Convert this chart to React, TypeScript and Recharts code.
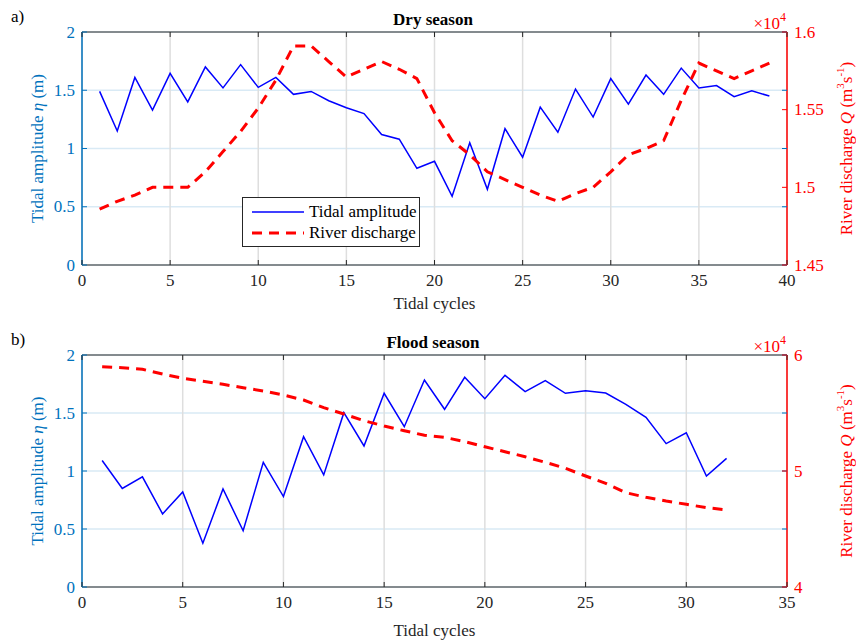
import { LineChart, Line, XAxis, YAxis, CartesianGrid, Legend, ReferenceLine } from 'recharts'

// dry season (a)
const dryCycles = [
  1, 2, 3, 4, 5, 6, 7, 8, 9, 10, 11, 12, 13, 14, 15, 16, 17, 18, 19, 20,
  21, 22, 23, 24, 25, 26, 27, 28, 29, 30, 31, 32, 33, 34, 35, 36, 37, 38, 39,
]
const dryAmplitude = [
  1.49, 1.15, 1.61, 1.33, 1.645, 1.4, 1.7, 1.52, 1.72, 1.525, 1.61, 1.465, 1.49, 1.41, 1.35, 1.3, 1.12, 1.08, 0.83, 0.89,
  0.59, 1.05, 0.65, 1.17, 0.925, 1.355, 1.14, 1.51, 1.27, 1.6, 1.38, 1.63, 1.465, 1.69, 1.52, 1.54, 1.445, 1.495, 1.45,
]
const dryDischarge = [
  14860, 14910, 14950, 15000, 15000, 15000, 15100, 15230, 15360, 15510, 15690, 15910, 15910, 15810, 15710, 15760, 15810, 15760, 15700, 15480,
  15300, 15210, 15100, 15050, 15000, 14950, 14910, 14960, 15000, 15100, 15210, 15250, 15300, 15560, 15800, 15750, 15700, 15750, 15800,
]

// flood season (b)
const floodCycles = [
  1, 2, 3, 4, 5, 6, 7, 8, 9, 10, 11, 12, 13, 14, 15, 16,
  17, 18, 19, 20, 21, 22, 23, 24, 25, 26, 27, 28, 29, 30, 31, 32,
]
const floodAmplitude = [
  1.09, 0.85, 0.95, 0.63, 0.82, 0.377, 0.845, 0.485, 1.075, 0.78, 1.296, 0.966, 1.503, 1.216, 1.67, 1.382,
  1.784, 1.532, 1.808, 1.623, 1.825, 1.684, 1.779, 1.67, 1.692, 1.672, 1.575, 1.463, 1.236, 1.33, 0.957, 1.109,
]
const floodDischarge = [
  58990, 58900, 58770, 58360, 57990, 57730, 57470, 57180, 56900, 56550, 56120, 55460, 54910, 54340, 53880, 53470,
  53080, 52900, 52530, 52090, 51660, 51230, 50750, 50230, 49570, 48940, 48130, 47730, 47410, 47130, 46840, 46650,
]

const dryXTicks = [0, 5, 10, 15, 20, 25, 30, 35, 40]
const floodXTicks = [0, 5, 10, 15, 20, 25, 30, 35]
const amplitudeTicks = [0, 0.5, 1, 1.5, 2]
const dryQTicks = [14500, 15000, 15500, 16000]
const floodQTicks = [40000, 50000, 60000]
const legendOrder = ['amplitude', 'discharge']

const dryData = dryCycles.map((c, i) => ({ cycle: c, amplitude: dryAmplitude[i], discharge: dryDischarge[i] }))
const floodData = floodCycles.map((c, i) => ({ cycle: c, amplitude: floodAmplitude[i], discharge: floodDischarge[i] }))

const BLUE = '#0072BD'
const RED = '#FF0000'
const DARK = '#262626'
const FONT = '"Liberation Serif", "Times New Roman", serif'
const TICK_MARGIN = 7
const PLOT_TOP = 32
const PLOT_RIGHT = 787

function XTick(props: any) {
  const { x, y, payload } = props
  const axisY = y - TICK_MARGIN
  return (
    <g>
      <line x1={x} x2={x} y1={axisY} y2={axisY - 5} stroke={DARK} />
      <line x1={x} x2={x} y1={PLOT_TOP} y2={PLOT_TOP + 5} stroke={DARK} />
      <text x={x} y={y} dy="0.8em" textAnchor="middle" fill={DARK} fontSize={17} fontFamily={FONT}>
        {payload.value}
      </text>
    </g>
  )
}

function LeftTick(props: any) {
  const { x, y, payload } = props
  const axisX = x + TICK_MARGIN
  return (
    <g>
      <line x1={axisX} x2={axisX + 5} y1={y} y2={y} stroke={BLUE} />
      <line x1={PLOT_RIGHT - 5} x2={PLOT_RIGHT} y1={y} y2={y} stroke={BLUE} />
      <text x={x} y={y} textAnchor="end" dominantBaseline="central" fill={BLUE} fontSize={17} fontFamily={FONT}>
        {payload.value}
      </text>
    </g>
  )
}

function RightTick(props: any) {
  const { x, y, payload } = props
  const axisX = x - TICK_MARGIN
  return (
    <g>
      <line x1={axisX - 5} x2={axisX} y1={y} y2={y} stroke={RED} />
      <text x={x} y={y} textAnchor="start" dominantBaseline="central" fill={RED} fontSize={17} fontFamily={FONT}>
        {payload.value / 1e4}
      </text>
    </g>
  )
}

function LegendBox({ payload }: any) {
  if (!payload) return null
  const items = [...payload].sort((a: any, b: any) => legendOrder.indexOf(a.dataKey) - legendOrder.indexOf(b.dataKey))
  return (
    <div
      style={{
        border: `1px solid ${DARK}`,
        background: '#fff',
        padding: '3px 4px 3px 9px',
        width: 178,
        boxSizing: 'border-box',
        fontFamily: FONT,
        whiteSpace: 'nowrap',
      }}
    >
      {items.map((p: any) => (
        <div key={p.value} style={{ display: 'flex', alignItems: 'center', height: 21 }}>
          <svg width={52} height={10} style={{ flexShrink: 0 }}>
            <line
              x1={0} x2={52} y1={5} y2={5}
              stroke={p.color}
              strokeWidth={p.dataKey === 'discharge' ? 3 : 1.5}
              strokeDasharray={p.dataKey === 'discharge' ? '10 7' : undefined}
            />
          </svg>
          <span style={{ marginLeft: 5, fontSize: 17, color: '#000' }}>{p.value}</span>
        </div>
      ))}
    </div>
  )
}

function Overlay({ height, tag, title, midY }: { height: number; tag: string; title: string; midY: number }) {
  return (
    <svg
      width={856}
      height={height}
      style={{ position: 'absolute', left: 0, top: 0, pointerEvents: 'none' }}
      fontFamily={FONT}
    >
      <text x={11} y={22} fontSize={17} fill="#000">{tag}</text>
      <text x={433} y={25} fontSize={17} fontWeight="bold" textAnchor="middle" fill="#000">{title}</text>
      <text x={786} y={29} fontSize={17} textAnchor="end" fill={RED}>
        ×10<tspan dy={-8} fontSize={12}>4</tspan>
      </text>
      <text transform={`translate(37, ${midY}) rotate(-90)`} textAnchor="middle" dominantBaseline="central" fontSize={17} fill={BLUE}>
        Tidal amplitude <tspan fontStyle="italic">η</tspan> (m)
      </text>
      <text transform={`translate(846, ${midY}) rotate(-90)`} textAnchor="middle" dominantBaseline="central" fontSize={17} fill={RED}>
        River discharge <tspan fontStyle="italic">Q</tspan> (m<tspan dy={-6} fontSize={11}>3</tspan><tspan dy={6}>s</tspan><tspan dy={-6} fontSize={11}>-1</tspan><tspan dy={6}>)</tspan>
      </text>
    </svg>
  )
}

function SeasonChart({ data, height, axisHeight, labelOffset, xTicks, xMax, qTicks, qDomain, showLegend, tag, title }: any) {
  const plotBottom = height - axisHeight
  return (
    <div style={{ position: 'relative', width: 856, height }}>
      <LineChart width={856} height={height} data={data} margin={{ top: PLOT_TOP, right: 0, bottom: 0, left: 0 }}>
        <CartesianGrid yAxisId="left" vertical={false} stroke="#D9EAF5" strokeWidth={1.5} />
        <CartesianGrid yAxisId="left" horizontal={false} stroke="#DEDEDE" strokeWidth={1.5} />
        <XAxis
          dataKey="cycle"
          type="number"
          domain={[0, xMax]}
          ticks={xTicks}
          height={axisHeight}
          stroke={DARK}
          tickLine={false}
          tickSize={0}
          tickMargin={TICK_MARGIN}
          tick={<XTick />}
          label={{ value: 'Tidal cycles', position: 'insideBottom', offset: labelOffset, fontSize: 17, fill: DARK, fontFamily: FONT }}
        />
        <YAxis
          yAxisId="left"
          orientation="left"
          width={82}
          domain={[0, 2]}
          ticks={amplitudeTicks}
          stroke={BLUE}
          strokeWidth={1.5}
          tickLine={false}
          tickSize={0}
          tickMargin={TICK_MARGIN}
          tick={<LeftTick />}
        />
        <YAxis
          yAxisId="right"
          orientation="right"
          width={856 - PLOT_RIGHT}
          domain={qDomain}
          ticks={qTicks}
          stroke={RED}
          strokeWidth={1.5}
          tickLine={false}
          tickSize={0}
          tickMargin={TICK_MARGIN}
          tick={<RightTick />}
        />
        <ReferenceLine yAxisId="left" y={2} stroke={DARK} strokeWidth={1} />
        {showLegend && (
          <Legend
            layout="horizontal"
            verticalAlign="middle"
            align="center"
            content={<LegendBox />}
            wrapperStyle={{ position: 'absolute', left: 242, top: 197, width: 'auto' }}
          />
        )}
        <Line
          yAxisId="left"
          dataKey="amplitude"
          name="Tidal amplitude"
          stroke="#0000FF"
          strokeWidth={1.5}
          dot={false}
          isAnimationActive={false}
        />
        <Line
          yAxisId="right"
          dataKey="discharge"
          name="River discharge"
          stroke={RED}
          strokeWidth={3}
          strokeDasharray="10 7"
          dot={false}
          isAnimationActive={false}
        />
      </LineChart>
      <Overlay height={height} tag={tag} title={title} midY={(PLOT_TOP + plotBottom) / 2} />
    </div>
  )
}

export default function App() {
  return (
    <div
      style={{
        position: 'absolute',
        left: 0,
        top: 0,
        width: 856,
        height: 640,
        background: '#fff',
        fontFamily: FONT,
      }}
    >
      <SeasonChart
        data={dryData}
        height={320}
        axisHeight={55}
        labelOffset={11}
        xTicks={dryXTicks}
        xMax={40}
        qTicks={dryQTicks}
        qDomain={[14500, 16000]}
        showLegend
        tag="a)"
        title="Dry season"
      />
      <div style={{ position: 'absolute', left: 0, top: 323 }}>
        <SeasonChart
          data={floodData}
          height={317}
          axisHeight={53}
          labelOffset={4}
          xTicks={floodXTicks}
          xMax={35}
          qTicks={floodQTicks}
          qDomain={[40000, 60000]}
          showLegend={false}
          tag="b)"
          title="Flood season"
        />
      </div>
    </div>
  )
}
